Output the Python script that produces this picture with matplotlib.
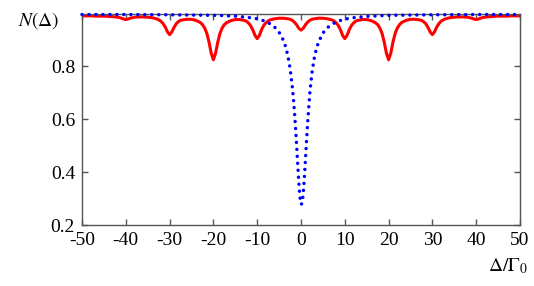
import numpy as np
import matplotlib.pyplot as plt

plt.rcParams['font.family'] = ['Liberation Serif', 'DejaVu Serif']
plt.rcParams['mathtext.fontset'] = 'stix'

# curva vermelha (linha cheia)
red_x = [-50, -49, -48, -47, -46, -45, -44, -43, -42.5, -42, -41.5, -41, -40.5, -40,
         -39.5, -39, -38.5, -38, -37.5, -37, -36, -35, -34, -33, -32.5, -32, -31.5, -31,
         -30.5, -30, -29.5, -29, -28.5, -28, -27.5, -27, -26, -25, -24, -23, -22.5, -22,
         -21.5, -21, -20.5, -20, -19.5, -19, -18.5, -18, -17.5, -17, -16, -15, -14, -13,
         -12.5, -12, -11.5, -11, -10.5, -10, -9.5, -9, -8.5, -8, -7.5, -7, -6, -5, -4, -3,
         -2.5, -2, -1.5, -1, -0.5, 0, 0.5, 1, 1.5, 2, 2.5, 3, 4, 5, 6, 7, 7.5, 8, 8.5, 9,
         9.5, 10, 10.5, 11, 11.5, 12, 12.5, 13, 14, 15, 16, 17, 17.5, 18, 18.5, 19, 19.5,
         20, 20.5, 21, 21.5, 22, 22.5, 23, 24, 25, 26, 27, 27.5, 28, 28.5, 29, 29.5, 30,
         30.5, 31, 31.5, 32, 32.5, 33, 34, 35, 36, 37, 37.5, 38, 38.5, 39, 39.5, 40, 40.5,
         41, 41.5, 42, 42.5, 43, 44, 45, 46, 47, 48, 49, 50]
red_y = [0.990, 0.990, 0.990, 0.989, 0.989, 0.989, 0.988, 0.987, 0.986, 0.985, 0.984, 0.981,
         0.978, 0.976, 0.978, 0.981, 0.983, 0.985, 0.9855, 0.986, 0.986, 0.985, 0.983, 0.979,
         0.975, 0.970, 0.961, 0.948, 0.930, 0.919, 0.929, 0.946, 0.960, 0.968, 0.973, 0.975,
         0.977, 0.977, 0.973, 0.965, 0.957, 0.944, 0.924, 0.891, 0.849, 0.824, 0.849, 0.891,
         0.924, 0.944, 0.957, 0.964, 0.972, 0.976, 0.976, 0.973, 0.970, 0.963, 0.953, 0.937,
         0.916, 0.904, 0.916, 0.938, 0.954, 0.964, 0.971, 0.975, 0.979, 0.981, 0.981, 0.979,
         0.977, 0.973, 0.966, 0.956, 0.943, 0.936, 0.943, 0.956, 0.966, 0.973, 0.977, 0.979,
         0.981, 0.981, 0.979, 0.975, 0.971, 0.964, 0.954, 0.938, 0.916, 0.904, 0.916, 0.937,
         0.953, 0.963, 0.970, 0.973, 0.976, 0.976, 0.972, 0.964, 0.957, 0.944, 0.924, 0.891,
         0.849, 0.824, 0.849, 0.891, 0.924, 0.944, 0.957, 0.965, 0.973, 0.977, 0.977, 0.975,
         0.973, 0.968, 0.960, 0.946, 0.929, 0.919, 0.930, 0.948, 0.961, 0.970, 0.975, 0.979,
         0.983, 0.985, 0.986, 0.986, 0.9855, 0.985, 0.983, 0.981, 0.978, 0.976, 0.978, 0.981,
         0.984, 0.985, 0.986, 0.987, 0.988, 0.989, 0.989, 0.989, 0.990, 0.990, 0.990]

# curva azul (pontilhada)
blue_x = [-50, -40, -30, -25, -20, -15, -12, -10, -8, -7, -6, -5, -4, -3.5, -3, -2.5, -2,
          -1.75, -1.5, -1.25, -1, -0.75, -0.5, -0.25, 0, 0.25, 0.5, 0.75, 1, 1.25, 1.5, 1.75,
          2, 2.5, 3, 3.5, 4, 5, 6, 7, 8, 10, 12, 15, 20, 25, 30, 40, 50]
blue_y = [0.995, 0.995, 0.994, 0.993, 0.992, 0.989, 0.984, 0.979, 0.969, 0.959, 0.947, 0.928,
          0.897, 0.873, 0.839, 0.792, 0.724, 0.680, 0.628, 0.568, 0.500, 0.429, 0.361, 0.307,
          0.278, 0.281, 0.316, 0.374, 0.443, 0.514, 0.581, 0.639, 0.697, 0.775, 0.828, 0.865,
          0.891, 0.925, 0.945, 0.957, 0.967, 0.978, 0.983, 0.988, 0.992, 0.993, 0.994, 0.995,
          0.995]

x_ticks = [-50, -40, -30, -20, -10, 0, 10, 20, 30, 40, 50]
y_ticks = [0.2, 0.4, 0.6, 0.8]

fig = plt.figure(figsize=(5.34, 2.86), dpi=100)
ax = fig.add_axes([82 / 534, 61 / 286, 438 / 534, 211 / 286])

ax.plot(red_x, red_y, color='#ff0000', lw=2.2)
# pontos azuis por cima do eixo, como no original
ax.plot(blue_x, blue_y, color='#0000ff', lw=2.5, linestyle=(0, (0.01, 2.0)),
        dash_capstyle='round', clip_on=False, zorder=3)

ax.set_xlim(-50, 50)
ax.set_ylim(0.2, 0.997)
ax.set_xticks(x_ticks)
ax.set_xticklabels([str(v) for v in x_ticks])
ax.set_yticks(y_ticks)
ax.set_yticklabels(['%.1f' % v for v in y_ticks])
ax.tick_params(direction='in', top=True, right=True, length=4, width=1,
               color='#555555', labelsize=14, pad=5)
for s in ax.spines.values():
    s.set_color('#555555')
    s.set_linewidth(1.0)

fig.text(18 / 534, 1 - 21 / 286, r'$N(\Delta)$', fontsize=14, va='center', ha='left')
fig.text(528 / 534, 1 - 266 / 286, r'$\Delta/\Gamma_0$', fontsize=14, va='center', ha='right')

plt.savefig('out.png', dpi=100)
